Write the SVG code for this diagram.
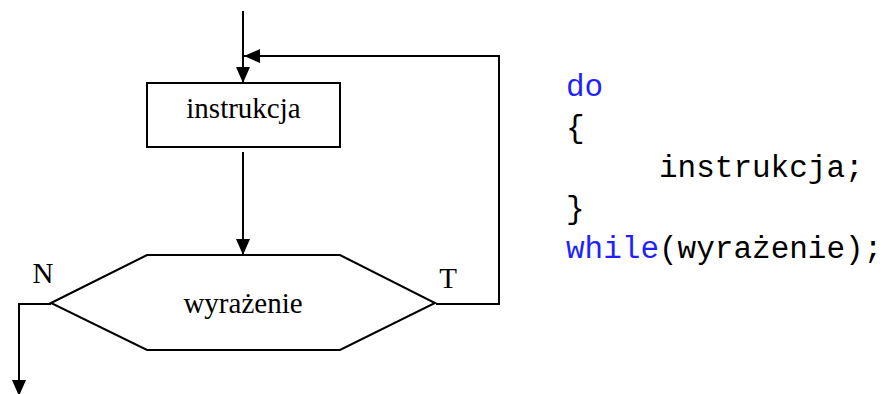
<svg xmlns="http://www.w3.org/2000/svg" width="888" height="394" viewBox="0 0 888 394">
<style>
.ln{fill:none;stroke:#000;stroke-width:2}
.sh{fill:#fff;stroke:#000;stroke-width:2}
.lbl{font-family:"Liberation Serif","Times New Roman",serif;font-size:29px;fill:#000}
.code{font-family:"Liberation Mono","Courier New",monospace;font-size:31px;fill:#000}
.kw{fill:#1f1fff}
</style>
<defs>
<marker id="ah" viewBox="0 0 16 14" refX="16" refY="7" markerWidth="16" markerHeight="14" markerUnits="userSpaceOnUse" orient="auto">
<path d="M0,0 L16,7 L0,14 Z" fill="#000"/>
</marker>
</defs>
<rect width="888" height="394" fill="#fff"/>
<g id="connectors">
<line class="ln" x1="243" y1="11" x2="243" y2="83" marker-end="url(#ah)"/>
<polyline class="ln" points="436,304 499,304 499,56 244,56" marker-end="url(#ah)"/>
<line class="ln" x1="243" y1="152" x2="243" y2="255" marker-end="url(#ah)"/>
<polyline class="ln" points="51,304 19,304 19,396" marker-end="url(#ah)"/>
</g>
<g id="instrukcja">
<rect class="sh" x="147" y="83" width="193" height="64"/>
<text class="lbl" x="243.5" y="118" text-anchor="middle">instrukcja</text>
</g>
<g id="wyrazenie">
<polygon class="sh" points="51,303 147,255 340,255 435,303 340,350 147,350"/>
<text class="lbl" x="243" y="313" text-anchor="middle">wyrażenie</text>
</g>
<g id="labels">
<text class="lbl" x="43" y="283" text-anchor="middle">N</text>
<text class="lbl" x="448" y="288" text-anchor="middle">T</text>
</g>
<g id="code">
<text class="code kw" x="566" y="96">do</text>
<text class="code" x="566" y="137">{</text>
<text class="code" x="659" y="177">instrukcja;</text>
<text class="code" x="566" y="218">}</text>
<text class="code" x="566" y="258"><tspan class="kw">while</tspan>(wyrażenie);</text>
</g>
</svg>
